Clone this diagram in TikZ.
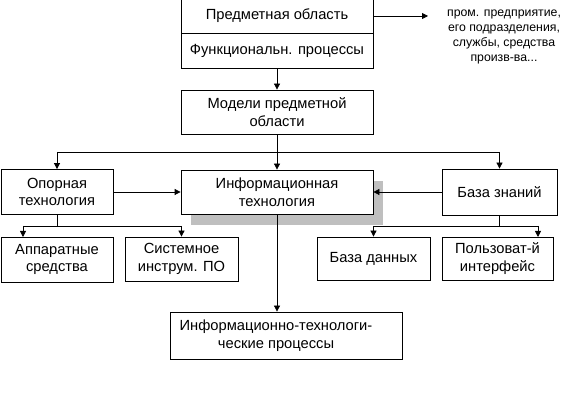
\documentclass[tikz,border=0pt]{standalone}
\usepackage{fontspec}
\setmainfont{Liberation Sans}
\usetikzlibrary{arrows.meta, shadows}

\begin{document}
\begin{tikzpicture}[x=1pt, y=-1pt,
  box/.style={draw, line width=0.8pt, align=center, inner sep=2pt, font=\fontsize{14.7}{17.5}\selectfont},
  shbox/.style={box, fill=white, drop shadow={shadow xshift=10pt, shadow yshift=-11pt, fill=black!25, opacity=1}},
  arr/.style={-{Triangle[length=6pt, width=6pt]}, line width=0.8pt},
  ln/.style={line width=0.8pt},
]
  \useasboundingbox (0,0) rectangle (576,403);
  \node[box, minimum width=192pt, minimum height=35pt] (subj) at (277,16) {Предметная область};
  \node[box, minimum width=192pt, minimum height=35pt] (func) at (277,50.5) {Функциональн. процессы};
  \node[align=center, font=\fontsize{12.3}{15}\selectfont] (note) at (504,37) {пром. предприятие,\\его подразделения,\\службы, средства\\произв-ва...};
  \node[box, minimum width=192pt, minimum height=44pt] (models) at (277,112) {Модели предметной\\области};
  \node[shbox, minimum width=192pt, minimum height=44pt] (info) at (277,192) {Информационная\\технология};
  \node[box, minimum width=112pt, minimum height=45pt] (opor) at (57,192) {Опорная\\технология};
  \node[box, minimum width=115pt, minimum height=46pt] (know) at (499.5,192) {База знаний};
  \node[box, minimum width=112pt, minimum height=45pt] (hw) at (57,259.5) {Аппаратные\\средства};
  \node[box, minimum width=113pt, minimum height=44pt] (sys) at (181.5,259) {Системное\\инструм. ПО};
  \node[box, minimum width=113pt, minimum height=43pt] (db) at (373.5,258.5) {База данных};
  \node[box, minimum width=111pt, minimum height=43pt] (ui) at (497.5,258.5) {Пользоват-й\\интерфейс};
  \node[box, minimum width=232pt, minimum height=47pt] (itp) at (286,335.5) {Информационно-технологи-\hspace*{20pt}\\ческие процессы\hspace*{20pt}};
  % connectors
  \coordinate (noteIn) at (428,16);
  \coordinate (split) at (277,152);
  \coordinate (lsplit) at (57,226);
  \coordinate (rsplit) at (499,226);
  \coordinate (hwIn) at (23,237);
  \coordinate (uiIn) at (538,237);
  \draw[arr] (subj.east) -- (noteIn);
  \draw[arr] (func) -- (models);
  \draw[arr] (models) -- (info);
  \draw[ln] (opor.north |- split) -- (know.north |- split);
  \draw[arr] (opor.north |- split) -- (opor.north);
  \draw[arr] (know.north |- split) -- (know.north);
  \draw[arr] (opor) -- (info);
  \draw[arr] (know) -- (info);
  \draw[ln] (opor.south) -- (lsplit);
  \draw[ln] (hwIn |- lsplit) -- (sys.north |- lsplit);
  \draw[arr] (hwIn |- lsplit) -- (hwIn);
  \draw[arr] (sys.north |- lsplit) -- (sys.north);
  \draw[ln] (know.south) -- (know.south |- rsplit);
  \draw[ln] (db.north |- rsplit) -- (uiIn |- rsplit);
  \draw[arr] (db.north |- rsplit) -- (db.north);
  \draw[arr] (uiIn |- rsplit) -- (uiIn);
  \draw[arr] (info.south) -- (info.south |- itp.north);
\end{tikzpicture}
\end{document}
